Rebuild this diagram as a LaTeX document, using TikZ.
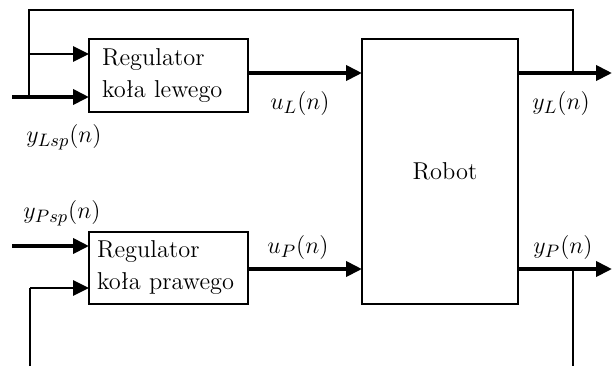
\documentclass[tikz,border=0pt]{standalone}
\usetikzlibrary{arrows.meta}
\begin{document}
\begin{tikzpicture}[x=0.5pt,y=-0.5pt,
  every node/.style={font=\fontsize{12.2}{16}\selectfont},
  blk/.style={draw,line width=1pt,inner ysep=0pt,align=left},
  sig/.style={line width=1.9pt,-{Triangle[length=8pt,width=7.5pt]}},
  fb/.style={line width=0.9pt},
  fbarrow/.style={line width=1.4pt,-{Triangle[length=8pt,width=7.5pt]}},
  lbl/.style={inner sep=0pt}]
\useasboundingbox (0,0) rectangle (615,366);
% blocks
\node[blk,inner xsep=6.5pt,text width=66.5pt,minimum height=36.5pt] (regL) at (168.5,75.5) {Regulator\\koła lewego};
\node[blk,inner xsep=4pt,text width=71.5pt,minimum height=36pt] (regP) at (168.5,268) {Regulator\\koła prawego};
\node[blk,inner xsep=0pt,minimum width=78pt,minimum height=132.5pt,align=center] (robot) at (440,171.5) {\hspace*{5pt}Robot};
% coordinates
\coordinate (inL1) at (89,54);
\coordinate (inL2) at (89,97);
\coordinate (srcL) at (12,97);
\coordinate (brL) at (29,97);
\coordinate (topL) at (29,10);
\coordinate (topR) at (573,10);
\coordinate (tapL) at (573,73);
\coordinate (outL) at (612,73);
\coordinate (rinL) at (362,73);
\coordinate (inP1) at (89,246);
\coordinate (srcP) at (12,246);
\coordinate (inP2) at (89,288);
\coordinate (cornP) at (30,288);
\coordinate (botP) at (30,366);
\coordinate (rinP) at (362,269);
\coordinate (tapP) at (573,269);
\coordinate (outP) at (612,269);
\coordinate (botR) at (573,366);
% signals
\draw[sig] (srcL) -- (inL2);
\draw[sig] (srcP) -- (inP1);
\draw[sig] (regL.east |- rinL) -- (rinL);
\draw[sig] (regP.east |- rinP) -- (rinP);
\draw[sig] (robot.east |- outL) -- (outL);
\draw[sig] (robot.east |- outP) -- (outP);
% feedback
\draw[fb] (tapL) -- (topR) -- (topL) -- (brL);
\draw[fbarrow] (brL |- inL1) -- (inL1);
\draw[fb] (botP) -- (cornP);
\draw[fbarrow] (cornP) -- (inP2);
\draw[fb] (tapP) -- (botR);
% labels
\node[lbl] (lyLsp) at (64,137) {$y_{Lsp}(n)$};
\node[lbl] (luL) at (300,103) {$u_L(n)$};
\node[lbl] (lyL) at (561,103) {$y_L(n)$};
\node[lbl] (lyPsp) at (62,213) {$y_{Psp}(n)$};
\node[lbl] (luP) at (298,247) {$u_P(n)$};
\node[lbl] (lyP) at (563,247) {$y_P(n)$};
\end{tikzpicture}
\end{document}
